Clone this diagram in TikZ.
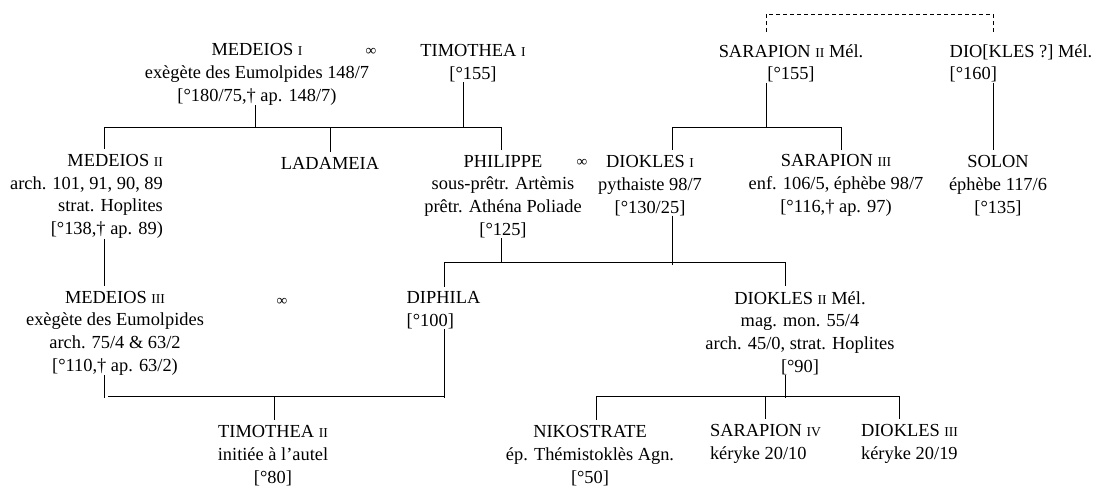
\documentclass[tikz,border=0pt]{standalone}
\usepackage{fontspec}
\setmainfont{Liberation Serif}
\tikzset{
  person/.style={align=center, inner sep=0pt, font=\fontsize{18.4}{22.7}\selectfont},
  personl/.style={person, align=left},
  personr/.style={person, align=right},
  marr/.style={inner sep=0pt, font=\fontsize{15}{18}\selectfont},
  kin/.style={line width=0.9pt},
  kindash/.style={kin, dash pattern=on 4pt off 3pt},
}
\newcommand{\rn}[1]{{\fontsize{13.6}{22.7}\selectfont #1}}

\begin{document}
\begin{tikzpicture}[x=1pt, y=-1pt]
  \useasboundingbox (0,0) rectangle (1099,487);

  \node[person] (med1) at (257,74.5) {MEDEIOS \rn{I}\\exègète des Eumolpides 148/7\\{}[°180/75,† ap. 148/7)};
  \node[marr] (m1) at (371,52) {∞};
  \node[person] (tim1) at (473,63.4) {TIMOTHEA \rn{I}\\{}[°155]};
  \node[person] (sar2) at (791,63.4) {SARAPION \rn{II} Mél.\\{}[°155]};
  \node[personl] (dio) at (1021,63.4) {DIO[KLES ?] Mél.\\{}[°160]};

  \node[personr] (med2) at (86.5,196.5) {MEDEIOS \rn{II}\\arch. 101, 91, 90, 89\\strat. Hoplites\\{}[°138,† ap. 89)};
  \node[person] (lad) at (330,163) {LADAMEIA};
  \node[person] (phil) at (503,196.5) {PHILIPPE\\sous-prêtr. Artèmis\\prêtr. Athéna Poliade\\{}[°125]};
  \node[marr] (m2) at (582,163) {∞};
  \node[person] (diok1) at (650,185.5) {DIOKLES \rn{I}\\pythaiste 98/7\\{}[°130/25]};
  \node[person] (sar3) at (836,185.5) {SARAPION \rn{III}\\enf. 106/5, éphèbe 98/7\\{}[°116,† ap. 97)};
  \node[person] (solon) at (998,185.5) {SOLON\\éphèbe 117/6\\{}[°135]};

  \node[person] (med3) at (115,333) {MEDEIOS \rn{III}\\exègète des Eumolpides\\arch. 75/4 \& 63/2\\{}[°110,† ap. 63/2)};
  \node[marr] (m3) at (282,302) {∞};
  \node[personl] (diph) at (443.5,310.5) {DIPHILA\\{}[°100]};
  \node[person] (diok2) at (800,333) {DIOKLES \rn{II} Mél.\\mag. mon. 55/4\\arch. 45/0, strat. Hoplites\\{}[°90]};

  \node[person] (tim2) at (273,455.5) {TIMOTHEA \rn{II}\\initiée à l’autel\\{}[°80]};
  \node[person] (nik) at (590,455.5) {NIKOSTRATE\\ép. Thémistoklès Agn.\\{}[°50]};
  \node[personl] (sar4) at (765.5,444) {SARAPION \rn{IV}\\kéryke 20/10};
  \node[personl] (diok3) at (909.5,444) {DIOKLES \rn{III}\\kéryke 20/19};

  \coordinate (top) at (0,14);
  \coordinate (b1) at (0,127);
  \coordinate (b2) at (0,262);
  \coordinate (b3) at (0,396);
  \coordinate (xm1) at (255,0);
  \coordinate (xt1) at (463,0);
  \coordinate (xa) at (104,0);
  \coordinate (xab) at (108,0);
  \coordinate (xl) at (330,0);
  \coordinate (xp) at (501.5,0);
  \coordinate (xs2) at (766.5,0);
  \coordinate (xd1) at (672,0);
  \coordinate (xs3) at (841,0);
  \coordinate (xdi) at (993,0);
  \coordinate (xdh) at (444,0);
  \coordinate (xd2) at (785,0);
  \coordinate (xt2) at (274,0);
  \coordinate (xn) at (596,0);
  \coordinate (xs4) at (765,0);
  \coordinate (xd3) at (899,0);

  \draw[kindash, shorten <=12pt, shorten >=12pt] (sar2.north -| xs2) -- (top -| xs2) -- (top -| xdi) -- (dio.north -| xdi);

  \draw[kin] (med1.south -| xm1) -- (b1 -| xm1);
  \draw[kin] (tim1.south -| xt1) -- (b1 -| xt1);
  \draw[kin] (b1 -| xa) -- (b1 -| xp);
  \draw[kin, shorten >=5pt] (b1 -| xa) -- (med2.north -| xa);
  \draw[kin, shorten >=5pt] (b1 -| xl) -- (lad.north -| xl);
  \draw[kin, shorten >=5pt] (b1 -| xp) -- (phil.north -| xp);

  \draw[kin] (sar2.south -| xs2) -- (b1 -| xs2);
  \draw[kin] (b1 -| xd1) -- (b1 -| xs3);
  \draw[kin, shorten >=5pt] (b1 -| xd1) -- (diok1.north -| xd1);
  \draw[kin, shorten >=5pt] (b1 -| xs3) -- (sar3.north -| xs3);

  \draw[kin, shorten >=5pt] (dio.south -| xdi) -- (solon.north -| xdi);
  \draw[kin, shorten >=5pt] (med2.south -| xa) -- (med3.north -| xa);

  \draw[kin] (phil.south -| xp) -- (b2 -| xp);
  \draw[kin, shorten >=-3pt] (diok1.south -| xd1) -- (b2 -| xd1);
  \draw[kin] (b2 -| xdh) -- (b2 -| xd2);
  \draw[kin, shorten >=5pt] (b2 -| xdh) -- (diph.north -| xdh);
  \draw[kin, shorten >=5pt] (b2 -| xd2) -- (diok2.north -| xd2);

  \draw[kin, shorten >=-2pt] (med3.south -| xa) -- (b3 -| xa);
  \draw[kin, shorten >=-2pt] (diph.south -| xdh) -- (b3 -| xdh);
  \draw[kin] (b3 -| xab) -- (b3 -| xdh);
  \draw[kin, shorten >=5pt] (b3 -| xt2) -- (tim2.north -| xt2);

  \draw[kin, shorten >=-2pt] (diok2.south -| xd2) -- (b3 -| xd2);
  \draw[kin] (b3 -| xn) -- (b3 -| xd3);
  \draw[kin, shorten >=5pt] (b3 -| xn) -- (nik.north -| xn);
  \draw[kin, shorten >=5pt] (b3 -| xs4) -- (sar4.north -| xs4);
  \draw[kin, shorten >=5pt] (b3 -| xd3) -- (diok3.north -| xd3);
\end{tikzpicture}
\end{document}
